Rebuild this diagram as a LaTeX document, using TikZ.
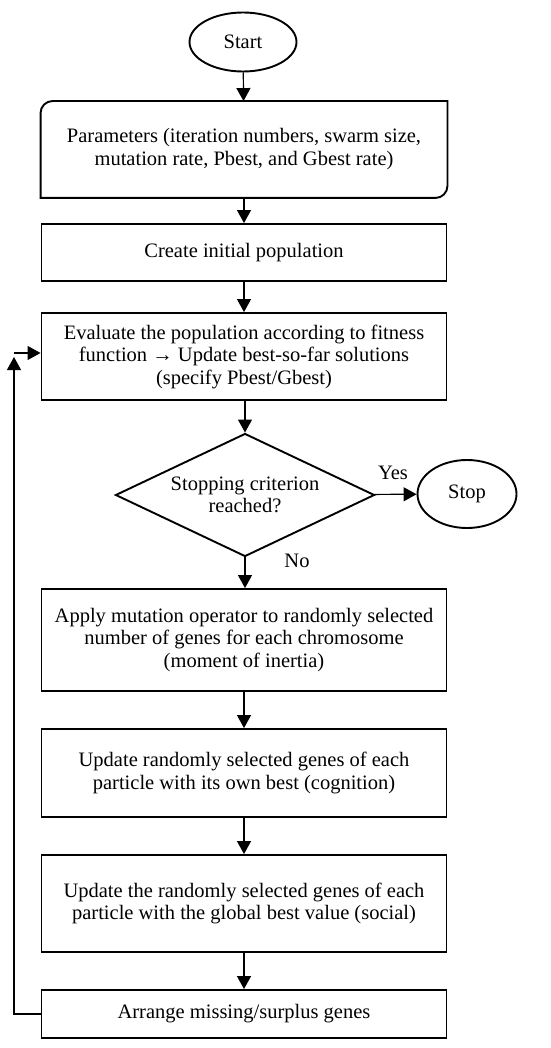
\documentclass[tikz,border=0pt]{standalone}
\usepackage{fontspec}
\setmainfont{Liberation Serif}
\usetikzlibrary{shapes.geometric,arrows.meta}
\begin{document}
\begin{tikzpicture}[x=1pt,y=-1pt,
  txt/.style={font=\fontsize{20.5}{22.5}\selectfont},
  box/.style={txt,draw,line width=1.9pt,minimum width=405pt,align=center,inner sep=1pt},
  term/.style={txt,draw,ellipse,line width=1.9pt,inner sep=0pt},
  conn/.style={line width=1.2pt,-{Triangle[width=14pt,length=13pt]}}]
\useasboundingbox (0,0) rectangle (550,1048);
\node[term,minimum width=107pt,minimum height=59pt] (start) at (243,42) {Start};
\node[box,draw=none,minimum height=95pt] (par) at (244,149.5)
  {\raisebox{5pt}{\begin{tabular}{@{}c@{}}Parameters (iteration numbers, swarm size,\\ mutation rate, Pbest, and Gbest rate)\end{tabular}}};
\draw[line width=1.9pt] (par.south west) -- ([yshift=-12pt]par.north west)
  arc[start angle=180,end angle=90,radius=12pt] -- (par.north east)
  -- ([yshift=12pt]par.south east) arc[start angle=0,end angle=-90,radius=12pt] -- cycle;
\node[box,minimum height=57pt] (init) at (244,252.5) {Create initial population};
\node[box,minimum height=87pt] (eval) at (244,356.5)
  {Evaluate the population according to fitness\\ function → Update best-so-far solutions\\ (specify Pbest/Gbest)};
\node[txt,draw,diamond,aspect=2.1,line width=1.9pt,minimum width=259pt,minimum height=123pt,inner sep=0pt,align=center] (dia) at (245,495)
  {Stopping criterion\\ reached?};
\node[term,minimum width=99pt,minimum height=68pt] (stop) at (467,494) {Stop};
\node[box,minimum height=102pt] (apply) at (244,640)
  {Apply mutation operator to randomly selected\\ number of genes for each chromosome\\ (moment of inertia)};
\node[box,minimum height=88pt] (upd1) at (244,773)
  {Update randomly selected genes of each\\ particle with its own best (cognition)};
\node[box,minimum height=97pt] (upd2) at (244,903.5)
  {Update the randomly selected genes of each\\ particle with the global best value (social)};
\node[box,minimum height=48pt] (arr) at (244,1014) {Arrange missing/surplus genes};
\node[txt] (yes) at (393,473) {Yes};
\node[txt] (no) at (297,561) {No};
\coordinate (fb) at (14,1014);
\coordinate (fc) at (14,353);
\coordinate (fu) at (14,357);
\draw[conn] (start) -- (par);
\draw[conn] (par) -- (init);
\draw[conn] (init) -- (eval);
\draw[conn] (eval.south -| dia) -- (dia);
\draw[conn] (dia) -- (stop);
\draw[conn] (dia) -- (apply.north -| dia);
\draw[conn] (apply) -- (upd1);
\draw[conn] (upd1) -- (upd2);
\draw[conn] (upd2) -- (arr);
\draw[conn] (arr.west) -- (fb) -- (fu);
\draw[conn] (fc) -- (eval.west |- fc);
\end{tikzpicture}
\end{document}
